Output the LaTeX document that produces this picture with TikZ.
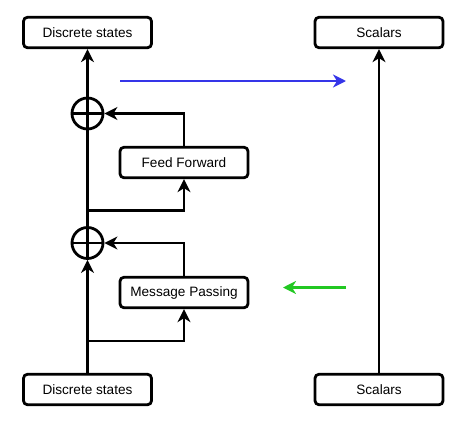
\documentclass[tikz,border=0pt]{standalone}
\usepackage{fontspec}
\setmainfont{Liberation Sans}
\usetikzlibrary{arrows.meta}
\definecolor{myblue}{HTML}{3535E8}
\definecolor{mygreen}{HTML}{22C822}
\begin{document}
\begin{tikzpicture}[x=1pt,y=-1pt,
  box/.style={draw, line width=2.8pt, rounded corners=4pt, minimum width=128pt, minimum height=30.5pt, inner sep=0pt, font=\fontsize{13.6}{15}\selectfont},
  plus/.style={draw, circle, line width=2.8pt, minimum size=31pt, inner sep=0pt,
    path picture={\draw[line width=2.8pt] (path picture bounding box.north) -- (path picture bounding box.south) (path picture bounding box.west) -- (path picture bounding box.east);}},
  conn/.style={line width=2.8pt},
  tip/.style={-{Stealth[length=13pt,width=13pt,inset=4pt]}}
]
\useasboundingbox (0,0) rectangle (474,437);
\node[box] (dtop) at (87.5,32.5) {Discrete states};
\node[box] (dbot) at (87.5,389.5) {Discrete states};
\node[box] (stop) at (379,32.5) {Scalars};
\node[box] (sbot) at (379,389.5) {Scalars};
\node[box] (ff) at (184,162.5) {Feed Forward};
\node[box] (mp) at (184,292.5) {Message Passing};
\node[plus] (o1) at (87.5,113.5) {};
\node[plus] (o2) at (87.5,243) {};
\coordinate (b1) at (87.5,341);
\coordinate (b2) at (87.5,210.5);
\coordinate (bl1) at (120,81);
\coordinate (bl2) at (346,81);
\coordinate (gr1) at (346,287.5);
\coordinate (gr2) at (283,287.5);
\draw[conn,tip] (dbot.north) -- (o2.south);
\draw[conn] (o2.north) -- (o1.south);
\draw[conn,tip] (o1.north) -- (dtop.south);
\draw[conn,tip] (b1) -| (mp.south);
\draw[conn,tip] (mp.north) |- (o2.east);
\draw[conn,tip] (b2) -| (ff.south);
\draw[conn,tip] (ff.north) |- (o1.east);
\draw[conn,tip] (sbot.north) -- (stop.south);
\draw[conn,tip,myblue] (bl1) -- (bl2);
\draw[conn,tip,mygreen] (gr1) -- (gr2);
\end{tikzpicture}
\end{document}
